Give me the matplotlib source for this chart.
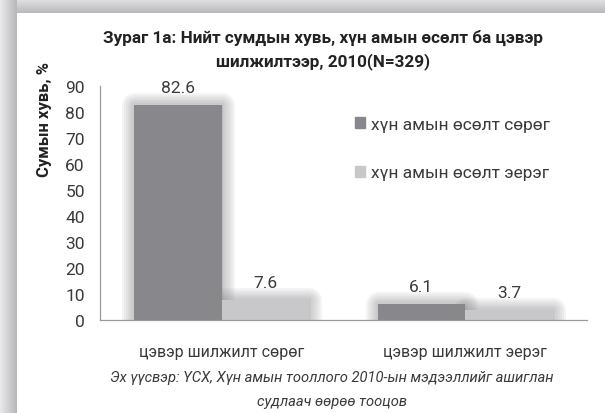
import matplotlib
matplotlib.use("Agg")
import matplotlib.pyplot as plt
import matplotlib.patheffects as pe
from matplotlib.patches import Patch
import numpy as np

plt.rcParams["font.family"] = ["Roboto", "DejaVu Sans"]

categories = ["цэвэр шилжилт сөрөг", "цэвэр шилжилт эерэг"]
series_names = ["хүн амын өсөлт сөрөг", "хүн амын өсөлт эерэг"]
growth_negative = [82.6, 6.1]
growth_positive = [7.6, 3.7]
y_ticks = [0, 10, 20, 30, 40, 50, 60, 70, 80, 90]

title = "Зураг 1а: Нийт сумдын хувь, хүн амын өсөлт ба цэвэр\nшилжилтээр, 2010(N=329)"
y_label = "Сумын хувь, %"
source = "Эх үүсвэр: ҮСХ, Хүн амын тооллого 2010-ын мэдээллийг ашиглан\nсудлаач өөрөө тооцов"

DARK = "#88888c"
LIGHT = "#c8c8ca"
TEXT = "#3a3a3a"
W, H = 605, 414

fig = plt.figure(figsize=(W / 100, H / 100), dpi=100)

# grey frame with a soft gradient towards the white panel
bg = fig.add_axes([0, 0, 1, 1], zorder=-10)
bg.axis("off")
xx, yy = np.meshgrid(np.arange(W), np.arange(H))
shade = np.ones((H, W))
left = xx < 17
top = yy < 14
shade[left] = 0.91 - 0.20 * (xx[left] / 17.0)
shade[top & ~left] = 0.88 - 0.16 * (yy[top & ~left] / 14.0)
bg.imshow(np.dstack([shade, shade, shade * 1.01]).clip(0, 1), aspect="auto",
          extent=(0, W, H, 0), interpolation="bilinear")
bg.set_xlim(0, W)
bg.set_ylim(H, 0)

ax = fig.add_axes([100 / W, 1 - 321 / H, 487 / W, 234 / H])
ax.set_facecolor("none")
x = np.arange(len(categories))
width = 0.36
# soft halo round each bar, built from stacked translucent strokes
glow = [pe.Stroke(linewidth=lw, foreground="#8a8a8a", alpha=0.09, joinstyle="round")
        for lw in (18, 15, 12, 9, 6, 3)] + [pe.Normal()]
b1 = ax.bar(x - width / 2, growth_negative, width, color=DARK, linewidth=0)
b2 = ax.bar(x + width / 2, growth_positive, width, color=LIGHT, linewidth=0)
for bar in list(b1) + list(b2):
    bar.set_path_effects(glow)
    ax.annotate(f"{bar.get_height():.1f}", (bar.get_x() + bar.get_width() / 2, bar.get_height()),
                xytext=(0, 13), textcoords="offset points", ha="center", va="center",
                fontsize=12.5, color=TEXT)

ax.set_xlim(-0.5, 1.5)
ax.set_ylim(0, 90)
ax.set_yticks(y_ticks)
ax.set_xticks(x, categories)
ax.tick_params(axis="both", length=0, labelsize=12.5, colors=TEXT)
ax.tick_params(axis="y", pad=11)
ax.tick_params(axis="x", pad=17, labelsize=11.5)
for s in ["top", "right"]:
    ax.spines[s].set_visible(False)
for s in ["left", "bottom"]:
    ax.spines[s].set_color("#9a9a9a")
    ax.spines[s].set_linewidth(0.9)

handles = [Patch(color=DARK), Patch(color=LIGHT)]
fig.legend(handles, series_names, loc="upper left", bbox_to_anchor=(339 / W, 1 - 102 / H),
           frameon=False, fontsize=12.5, labelcolor=TEXT, handlelength=0.6, handleheight=0.6,
           handletextpad=0.35, labelspacing=1.95)

fig.text(323 / W, 1 - 50 / H, title, ha="center", va="center", fontsize=12.3,
         fontweight="bold", color="#222222", linespacing=1.5)
fig.text(45 / W, 1 - 120 / H, y_label, ha="center", va="center", rotation=90,
         fontsize=12, fontweight="bold", color="#222222")
fig.text(332 / W, 1 - 390 / H, source, ha="center", va="center", fontsize=10.6,
         style="italic", color=TEXT, linespacing=1.95)

fig.savefig("out.png", dpi=100)
